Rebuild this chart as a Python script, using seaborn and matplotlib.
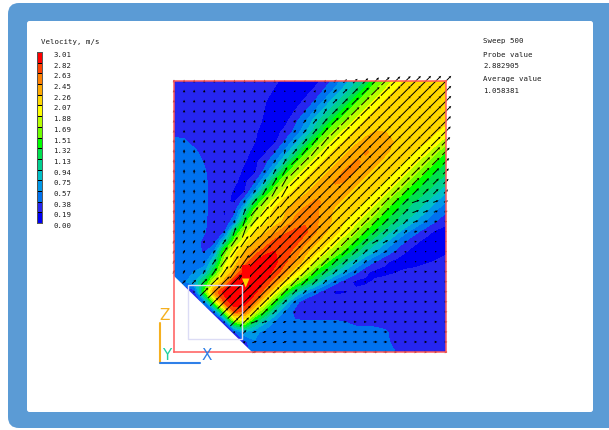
import numpy as np
import matplotlib
matplotlib.use("Agg")
import matplotlib.pyplot as plt
from matplotlib.colors import ListedColormap
from matplotlib.patches import FancyBboxPatch, Polygon, Rectangle
import seaborn as sns

LEGEND_TITLE = "Velocity, m/s"
LEVEL_LABELS = ["3.01","2.82","2.63","2.45","2.26","2.07","1.88","1.69","1.51","1.32","1.13","0.94","0.75","0.57","0.38","0.19","0.00"]
LEVELS = [0.00,0.19,0.38,0.57,0.75,0.94,1.13,1.32,1.51,1.69,1.88,2.07,2.26,2.45,2.63,2.82,3.01]
BAND_COLORS = ["#0000f5","#2626f0","#0072f0","#0098e8","#00c0c8","#00d090","#00e050","#00ff00",
               "#70ff00","#b8ff00","#ffff00","#ffd800","#ffaa00","#ff8000","#ff4000","#ff0000"]
INFO = [("Sweep 500",41),("Probe value",55),("2.882905",66),("Average value",79.5),("1.058381",91)]

# speed, one row per 10 px, top to bottom
SPEED = [
[.28,.28,.28,.28,.28,.28,.28,.28,.28,.28,.25,.1,.1,.1,.1,.25,.45,.65,.85,1.1,1.45,1.7,1.95,2.1,2.15,2.2,2.2,2.2],
[.28,.28,.28,.28,.28,.28,.28,.28,.28,.28,.15,.1,.1,.1,.22,.42,.62,.85,1.1,1.45,1.7,1.95,2.1,2.15,2.2,2.22,2.22,2.2],
[.28,.28,.28,.28,.28,.28,.28,.28,.28,.2,.1,.1,.1,.2,.38,.6,.85,1.1,1.45,1.7,1.95,2.1,2.15,2.2,2.22,2.24,2.22,2.2],
[.28,.28,.28,.28,.28,.28,.28,.28,.28,.18,.1,.1,.18,.35,.58,.85,1.1,1.45,1.7,1.95,2.1,2.15,2.2,2.24,2.24,2.22,2.2,2.2],
[.28,.28,.28,.28,.28,.28,.28,.28,.28,.15,.1,.1,.32,.55,.85,1.1,1.45,1.7,1.95,2.1,2.2,2.24,2.24,2.22,2.2,2.2,2.15,2.1],
[.28,.28,.28,.28,.28,.28,.28,.28,.22,.1,.1,.22,.4,.65,1.0,1.45,1.75,1.95,2.1,2.2,2.25,2.25,2.25,2.22,2.2,2.15,2.1,2.0],
[.45,.42,.3,.28,.28,.28,.28,.28,.2,.1,.1,.38,.62,1.0,1.45,1.75,1.95,2.1,2.2,2.3,2.45,2.3,2.25,2.2,2.15,2.1,2.0,1.75],
[.48,.48,.42,.3,.28,.28,.28,.26,.12,.1,.32,.58,.95,1.45,1.75,1.95,2.1,2.2,2.35,2.5,2.45,2.3,2.2,2.15,2.05,1.95,1.75,1.5],
[.5,.5,.48,.36,.28,.28,.28,.2,.1,.3,.52,.9,1.4,1.75,1.95,2.1,2.2,2.35,2.5,2.45,2.3,2.2,2.15,2.05,1.95,1.75,1.5,1.3],
[.5,.5,.5,.4,.28,.28,.27,.14,.1,.38,.8,1.4,1.75,1.95,2.1,2.2,2.35,2.5,2.48,2.3,2.2,2.15,2.05,1.95,1.75,1.5,1.3,1.15],
[.5,.5,.5,.42,.28,.28,.22,.1,.3,.72,1.35,1.75,1.95,2.1,2.2,2.35,2.5,2.48,2.3,2.2,2.15,2.05,1.95,1.75,1.5,1.3,1.15,1.0],
[.5,.5,.5,.42,.3,.27,.15,.1,.55,1.2,1.7,1.95,2.1,2.2,2.35,2.45,2.42,2.3,2.2,2.15,2.05,1.95,1.75,1.5,1.3,1.15,1.0,.75],
[.5,.5,.5,.42,.3,.22,.1,.45,1.2,1.75,2.0,2.15,2.25,2.35,2.5,2.45,2.3,2.2,2.15,2.05,1.95,1.7,1.45,1.25,1.1,.95,.75,.55],
[.5,.5,.5,.42,.3,.15,.25,.95,1.7,1.95,2.15,2.25,2.4,2.55,2.5,2.35,2.2,2.15,2.05,1.95,1.75,1.5,1.3,1.1,.95,.75,.55,.38],
[.5,.5,.5,.42,.28,.12,.4,1.4,1.85,2.0,2.15,2.25,2.5,2.6,2.5,2.35,2.2,2.05,1.95,1.75,1.5,1.3,1.1,.95,.75,.55,.38,.22],
[.5,.5,.5,.42,.2,.25,1.25,1.85,2.05,2.2,2.35,2.6,2.7,2.75,2.5,2.3,2.15,2.0,1.75,1.5,1.25,1.05,.85,.6,.42,.25,.12,.1],
[.5,.5,.48,.3,.2,.8,1.7,2.0,2.2,2.4,2.75,2.8,2.75,2.5,2.3,2.15,1.95,1.7,1.45,1.2,1.0,.78,.55,.35,.2,.1,.1,.12],
[.5,.5,.48,.3,.5,1.65,2.05,2.25,2.5,2.8,2.85,2.75,2.55,2.3,2.15,1.95,1.7,1.45,1.2,.95,.75,.52,.33,.18,.1,.1,.12,.18],
[.52,.52,.5,.38,.9,1.85,2.1,2.45,2.85,2.95,2.9,2.7,2.45,2.2,1.9,1.6,1.3,1.05,.8,.55,.35,.18,.1,.1,.12,.17,.2,.22],
[.52,.52,.55,.6,1.3,2.0,2.3,2.95,3.0,2.95,2.8,2.5,2.15,1.85,1.5,1.2,.95,.7,.45,.18,.1,.13,.18,.22,.24,.25,.26,.26],
[.1,.6,.75,1.2,1.9,2.3,3.0,3.0,3.0,2.85,2.5,2.1,1.75,1.4,1.1,.75,.42,.22,.1,.14,.22,.25,.25,.25,.25,.26,.26,.26],
[.1,.1,.15,1.7,2.7,3.0,3.0,3.0,2.95,2.55,2.05,1.5,1.0,.65,.4,.2,.1,.15,.22,.26,.26,.26,.26,.26,.27,.27,.27,.27],
[.1,.1,.1,.3,1.7,2.9,3.0,3.0,2.65,2.0,1.4,.85,.42,.15,.16,.24,.28,.28,.28,.28,.28,.28,.28,.28,.28,.28,.28,.28],
[.1,.1,.1,.1,.2,1.6,2.9,2.7,1.9,1.4,.85,.5,.27,.26,.27,.28,.28,.28,.28,.28,.28,.28,.28,.28,.28,.28,.28,.28],
[.1,.1,.1,.1,.1,.15,1.7,1.9,1.1,.75,.5,.42,.4,.4,.4,.4,.4,.38,.3,.28,.28,.28,.28,.28,.28,.28,.28,.28],
[.1,.1,.1,.1,.1,.1,.2,.7,.55,.48,.48,.48,.48,.48,.48,.48,.48,.48,.48,.48,.48,.42,.3,.28,.28,.28,.28,.28],
[.1,.1,.1,.1,.1,.1,.1,.3,.6,.5,.5,.5,.5,.5,.5,.5,.5,.5,.5,.5,.5,.42,.3,.28,.28,.28,.28,.28],
[.1,.1,.1,.1,.1,.1,.1,.1,.55,.5,.5,.5,.5,.5,.5,.5,.5,.5,.5,.5,.5,.5,.38,.28,.28,.28,.28,.28],
]
# flow direction in degrees, one entry per 4x4 block of arrows
ANGLE = [
[90,90,90,60,45,45,45],
[90,90,80,50,45,45,45],
[90,85,60,45,45,45,45],
[80,70,50,45,45,45,20],
[60,55,45,45,45,30,5],
[45,45,45,45,30,5,0],
[0,45,20,0,0,0,0],
]

W, H = 609, 430
FRAME = "#5b9bd5"
sns.set_theme(style="white")
plt.rcParams["font.family"] = ["DejaVu Sans Mono"]
fig = plt.figure(figsize=(W/100, H/100), dpi=100, facecolor="white")

def px_axes(x0, y0, x1, y1, **kw):
    return fig.add_axes([x0/W, 1-y1/H, (x1-x0)/W, (y1-y0)/H], **kw)

# page: blue rounded frame and white panel
bg = px_axes(0, 0, W, H)
bg.set_xlim(0, W); bg.set_ylim(H, 0); bg.axis("off")
bg.add_patch(FancyBboxPatch((8, 3), 640, 425, boxstyle="round,pad=0,rounding_size=11",
                            fc=FRAME, ec="none"))
bg.add_patch(FancyBboxPatch((27, 21), 566, 391, boxstyle="round,pad=0,rounding_size=2.5",
                            fc="white", ec="none"))
ink = "#1c1c1c"
bg.text(41, 42, LEGEND_TITLE, fontsize=5.3, color=ink, va="center")
for s, y in INFO:
    bg.text(483, y, s, fontsize=5.3, color=ink, va="center")

# legend swatch: one heatmap column, red on top
leg = px_axes(37, 52, 42, 223)
cells = np.arange(len(BAND_COLORS))[::-1].reshape(-1, 1)
sns.heatmap(cells, ax=leg, cmap=ListedColormap(BAND_COLORS), cbar=False, linewidths=0.5,
            linecolor="black", xticklabels=False)
leg.yaxis.tick_right()
leg.set_yticks(np.arange(len(LEVEL_LABELS)), LEVEL_LABELS, rotation=0, fontsize=5.3, color=ink, va="top")
leg.set_ylim(len(BAND_COLORS), 0)
leg.tick_params(axis="y", length=0, pad=8)
for s in leg.spines.values():
    s.set_visible(True); s.set_color("#555555"); s.set_linewidth(0.7)

# velocity field
speed = np.array(SPEED)
ny, nx = speed.shape
ax = px_axes(174, 81, 446, 352)
ax.set_xlim(0, nx-1); ax.set_ylim(ny-1, 0)
ax.set_xticks([]); ax.set_yticks([])
X, Y = np.meshgrid(np.arange(nx), np.arange(ny))

# light 1-2-1 softening of the hand-read table, for the filled bands only
soft = speed.copy()
for axis in (0, 1):
    pad = [(1, 1) if a == axis else (0, 0) for a in (0, 1)]
    p = np.pad(soft, pad, mode="edge")
    soft = (np.take(p, range(0, p.shape[axis]-2), axis=axis)
            + 2*np.take(p, range(1, p.shape[axis]-1), axis=axis)
            + np.take(p, range(2, p.shape[axis]), axis=axis)) / 4
field = 0.6*speed + 0.4*soft
ax.contourf(X, Y, np.clip(field, 0, 3.0), levels=LEVELS, colors=BAND_COLORS, antialiased=False)

ang = np.radians(np.array(ANGLE))
blocks = ang[np.minimum(Y // 4, 6), np.minimum(X // 4, 6)]
length = 0.1 + 0.62 * speed
U, V = length*np.cos(blocks), length*np.sin(blocks)
inside = ~(Y - X > 19.6)
ax.quiver(X[inside], Y[inside], U[inside], -V[inside], angles="xy", scale_units="xy", scale=1,
          pivot="mid", color="black", width=0.0036, headwidth=2.6, headlength=2.6,
          headaxislength=2.4, minlength=0.2, zorder=3, clip_on=False)

# wall: white cut-out below the diagonal
ax.add_patch(Polygon([(0, 19.4), (0, ny-1), (7.75, ny-1)], closed=True, fc="white", ec="none", zorder=4))
for s in ax.spines.values():
    s.set_visible(True); s.set_color("#ff5a5a"); s.set_linewidth(1.1); s.set_zorder(6)

# overlays in pixel space
top = px_axes(0, 0, W, H)
top.set_xlim(0, W); top.set_ylim(H, 0); top.axis("off"); top.patch.set_alpha(0)
top.add_patch(Rectangle((188, 285), 54, 54, fc="none", ec="#dcdcf5", lw=1.0, zorder=5))
top.add_patch(Rectangle((242, 265), 7.5, 13.5, fc="#ff0000", ec="none", zorder=6))
top.add_patch(Polygon([(242, 278.5), (249.5, 278.5), (245.7, 287.5)], closed=True, fc="#ffd000", ec="none", zorder=6))
top.plot([160, 160], [323, 363], color="#f5b020", lw=1.5)
top.plot([160, 200], [363, 363], color="#2f80e8", lw=1.5)
top.text(165, 315, "Z", color="#f5b020", fontsize=11, ha="center", va="center", family="DejaVu Sans")
top.text(166.5, 355.5, "Y", color="#20d0a0", fontsize=11, ha="center", va="center", family="DejaVu Sans")
top.text(207, 356, "X", color="#2f80e8", fontsize=11, ha="center", va="center", family="DejaVu Sans")

fig.savefig("out.png", dpi=100, facecolor="white")
